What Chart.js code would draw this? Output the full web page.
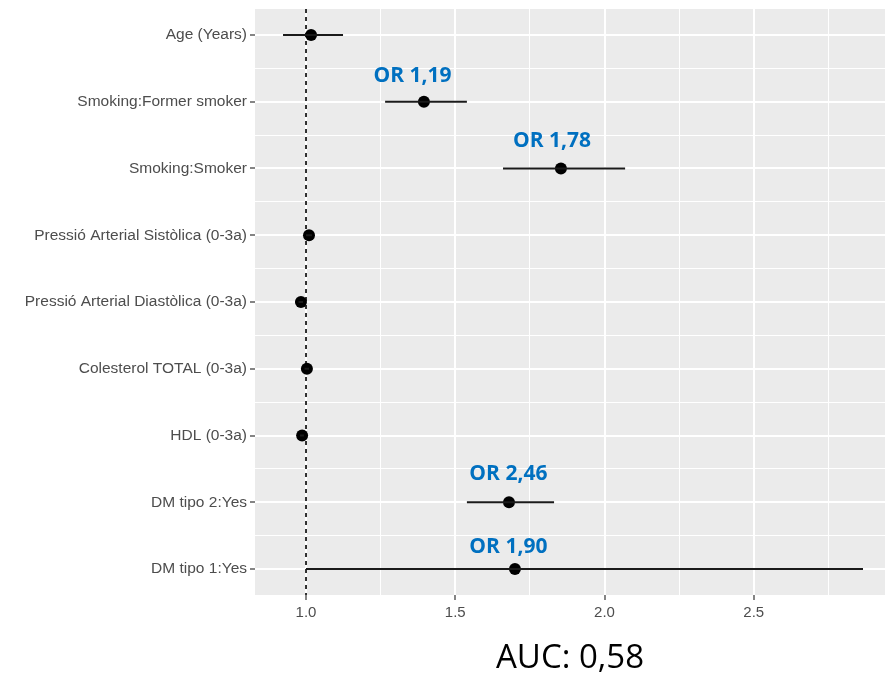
<!DOCTYPE html>
<html><head><meta charset="utf-8">
<script src="https://cdn.jsdelivr.net/npm/chart.js@4/dist/chart.umd.min.js"></script>
<style>html,body{margin:0;padding:0;background:#fff}#wrap{width:885px;height:675px;position:relative}canvas{display:block}</style>
</head><body><div id="wrap"><canvas id="c" width="885" height="675"></canvas></div>
<script>
const categories = ['Age (Years)', 'Smoking:Former smoker', 'Smoking:Smoker', 'Pressió Arterial Sistòlica (0-3a)', 'Pressió Arterial Diastòlica (0-3a)', 'Colesterol TOTAL (0-3a)', 'HDL (0-3a)', 'DM tipo 2:Yes', 'DM tipo 1:Yes'];
const estimate = [1.017, 1.395, 1.854, 1.010, 0.983, 1.003, 0.987, 1.680, 1.700];
const ciLow    = [0.923, 1.265, 1.660, 1.000, 0.975, 0.995, 0.980, 1.539, 1.000];
const ciHigh   = [1.124, 1.539, 2.069, 1.020, 0.990, 1.010, 0.993, 1.831, 2.866];
const xMajorTicks = [1.0, 1.5, 2.0, 2.5];
const xMinorTicks = [1.25, 1.75, 2.25, 2.75];
const referenceValue = 1.0;
const orLabels = ['OR 1,19', 'OR 1,78', 'OR 2,46', 'OR 1,90'];
const orLabelX = [1.357, 1.824, 1.678, 1.678];
const orLabelY = [1.704, 2.678, 7.667, 8.76];
const aucText = 'AUC: 0,58';

const rowPos = categories.map((_, i) => i + 1);
const rowMid = categories.slice(1).map((_, i) => i + 1.5);

const errorData = [];
categories.forEach((_, i) => {
  errorData.push({x: ciLow[i], y: rowPos[i]});
  errorData.push({x: ciHigh[i], y: rowPos[i]});
  errorData.push({x: NaN, y: NaN});
});
const pointData = categories.map((_, i) => ({x: estimate[i], y: rowPos[i]}));

const isMajorX = v => xMajorTicks.some(t => Math.abs(t - v) < 1e-9);
const isMajorY = v => Math.abs(v - Math.round(v)) < 1e-9;

const panelPlugin = {
  id: 'panel',
  beforeDraw(chart) {
    const {ctx, chartArea: a} = chart;
    ctx.save();
    ctx.fillStyle = '#ffffff';
    ctx.fillRect(0, 0, chart.width, chart.height);
    ctx.fillStyle = '#EBEBEB';
    ctx.fillRect(a.left, a.top, a.right - a.left, a.bottom - a.top);
    ctx.restore();
  },
  beforeDatasetsDraw(chart) {
    const {ctx, chartArea: a, scales} = chart;
    const x = scales.x.getPixelForValue(referenceValue);
    ctx.save();
    ctx.strokeStyle = '#000';
    ctx.lineWidth = 1.6;
    ctx.setLineDash([4, 4]);
    ctx.beginPath();
    ctx.moveTo(x, a.top);
    ctx.lineTo(x, a.bottom);
    ctx.stroke();
    ctx.restore();
  },
  afterDatasetsDraw(chart) {
    const {ctx, chartArea: a, scales} = chart;
    ctx.save();
    ctx.fillStyle = '#0070C0';
    ctx.font = 'bold 21px "Open Sans"';
    ctx.textAlign = 'center';
    ctx.textBaseline = 'alphabetic';
    orLabels.forEach((t, i) => {
      ctx.fillText(t, scales.x.getPixelForValue(orLabelX[i]), scales.y.getPixelForValue(orLabelY[i]));
    });
    ctx.fillStyle = '#000';
    ctx.font = '33px "Open Sans"';
    ctx.fillText(aucText, (a.left + a.right) / 2, a.bottom + 73);
    ctx.restore();
  }
};

new Chart(document.getElementById('c'), {
  type: 'scatter',
  data: {
    datasets: [
      {
        data: errorData,
        showLine: true,
        spanGaps: false,
        borderColor: '#1a1a1a',
        borderWidth: 2,
        pointRadius: 0,
        pointHoverRadius: 0
      },
      {
        data: pointData,
        pointRadius: 6,
        pointHoverRadius: 6,
        backgroundColor: '#000',
        borderColor: '#000',
        borderWidth: 0
      }
    ]
  },
  options: {
    responsive: false,
    animation: false,
    devicePixelRatio: 1,
    layout: {autoPadding: false, padding: {top: 9, right: 0, left: 0, bottom: 0}},
    plugins: {legend: {display: false}, tooltip: {enabled: false}},
    scales: {
      x: {
        type: 'linear',
        min: 0.8291,
        max: 2.9397,
        afterBuildTicks: s => { s.ticks = xMajorTicks.concat(xMinorTicks).map(v => ({value: v})); },
        afterFit: s => { s.height = 80; s.paddingLeft = 0; s.paddingRight = 0; },
        border: {display: false},
        grid: {
          color: '#ffffff',
          lineWidth: c => isMajorX(c.tick.value) ? 2 : 1,
          drawTicks: true,
          tickLength: 5,
          tickWidth: 1.2,
          tickColor: c => isMajorX(c.tick.value) ? '#333333' : 'rgba(0,0,0,0)'
        },
        ticks: {
          autoSkip: false,
          maxRotation: 0,
          padding: 4,
          color: '#4d4d4d',
          font: {family: '"Liberation Sans", Arial, sans-serif', size: 15},
          callback: v => isMajorX(v) ? v.toFixed(1) : ''
        }
      },
      y: {
        type: 'linear',
        reverse: true,
        min: 0.6105,
        max: 9.3895,
        afterBuildTicks: s => { s.ticks = rowPos.concat(rowMid).map(v => ({value: v})); },
        afterFit: s => { s.width = 255; s.paddingTop = 0; s.paddingBottom = 0; },
        border: {display: false},
        grid: {
          color: '#ffffff',
          lineWidth: c => isMajorY(c.tick.value) ? 2 : 1,
          drawTicks: true,
          tickLength: 5,
          tickWidth: 1.2,
          tickColor: c => isMajorY(c.tick.value) ? '#333333' : 'rgba(0,0,0,0)'
        },
        ticks: {
          autoSkip: false,
          padding: 3,
          color: '#4d4d4d',
          font: {family: '"Liberation Sans", Arial, sans-serif', size: 15.5},
          callback: v => isMajorY(v) ? categories[Math.round(v) - 1] : ''
        }
      }
    }
  },
  plugins: [panelPlugin]
});
</script>
</body></html>
